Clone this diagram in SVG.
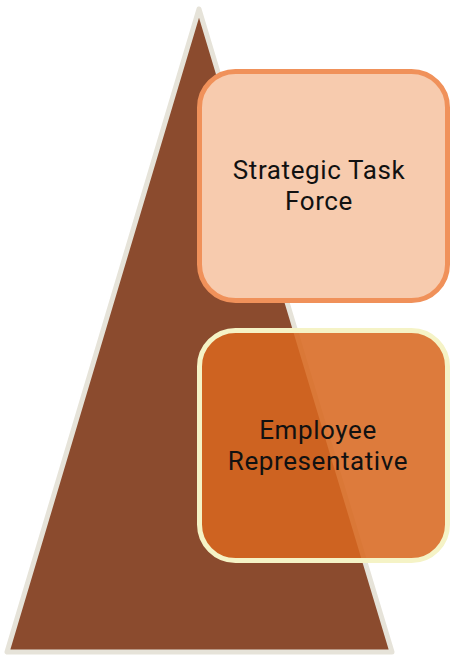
<svg xmlns="http://www.w3.org/2000/svg" width="451" height="656" viewBox="0 0 451 656">
  <style>
    .label { font-family: Roboto, "Open Sans", "DejaVu Sans", sans-serif; font-size: 26px; letter-spacing: 0.6px; fill: #111111; text-anchor: middle; }
    .pyramid { fill: #8B4B2E; stroke: #E6E3D9; stroke-width: 5; stroke-linejoin: round; }
    .box { stroke-width: 5; }
  </style>
  <rect width="451" height="656" fill="#FFFFFF"/>
  <g id="pyramid">
    <polygon class="pyramid" points="199,9 7,652 392,652"/>
  </g>
  <g id="strategic-task-force">
    <rect class="box" x="199.5" y="71.5" width="248" height="229" rx="36" fill="#F7CBAE" stroke="#F0915A"/>
    <text class="label"><tspan x="319" y="179">Strategic Task</tspan><tspan x="319" y="210">Force</tspan></text>
  </g>
  <g id="employee-representative">
    <rect class="box" x="199.5" y="330.5" width="248" height="230" rx="36" fill="#D8671F" fill-opacity="0.87" stroke="#F5F3C6"/>
    <text class="label"><tspan x="318" y="439">Employee</tspan><tspan x="318" y="470">Representative</tspan></text>
  </g>
  <g id="connectors"/>
</svg>
